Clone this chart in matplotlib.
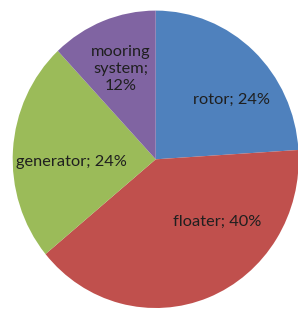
import matplotlib
matplotlib.use("Agg")
import matplotlib.pyplot as plt

categories = ["rotor", "floater", "generator", "mooring\nsystem"]
values = [24, 40, 24, 12]
colors = ["#4F81BD", "#C0504D", "#9BBB59", "#8064A2"]
label_texts = ["rotor; 24%", "floater; 40%", "generator; 24%", "mooring\nsystem;\n12%"]
label_pos = [(0.532, 0.399), (0.432, -0.422), (-0.589, -0.018), (-0.243, 0.607)]

plt.rcParams['font.family'] = ['Lato', 'DejaVu Sans']

fig = plt.figure(figsize=(2.98, 3.10), dpi=100)
ax = fig.add_axes([0, 0, 1, 1])
ax.pie(values, colors=colors, startangle=90, counterclock=False, radius=1.0,
       wedgeprops=dict(linewidth=0))
for txt, (x, y) in zip(label_texts, label_pos):
    ax.text(x, y, txt, ha="center", va="center", fontsize=11.8, color="#1f1f1f",
            linespacing=1.3)
ax.set_xlim(-1.0888, 0.9951)
ax.set_ylim(-1.0134, 1.0713)
ax.set_aspect("auto")
ax.axis("off")
fig.savefig("out.png", dpi=100)
